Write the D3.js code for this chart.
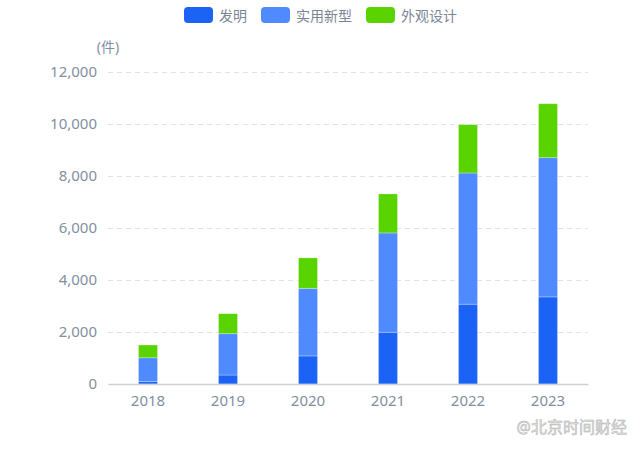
<!DOCTYPE html>
<html>
<head>
<meta charset="utf-8">
<script src="https://cdn.jsdelivr.net/npm/d3@7"></script>
<style>
  body { margin: 0; background: #fff; }
  text { font-family: "Noto Sans", "Noto Sans CJK SC", sans-serif; }
</style>
</head>
<body>
<svg width="640" height="449"></svg>
<script>
// datos
const years = ['2018', '2019', '2020', '2021', '2022', '2023'];
const series = ['发明', '实用新型', '外观设计'];
const faming = [90, 345, 1080, 1990, 3070, 3350];
const shiyong = [920, 1590, 2600, 3820, 5045, 5355];
const waiguan = [490, 770, 1170, 1500, 1860, 2075];
const yTicks = [0, 2000, 4000, 6000, 8000, 10000, 12000];
const colores = ['#1a63f4', '#4f8afe', '#5ad400'];

const svg = d3.select('svg');
const margin = { top: 72, right: 52, bottom: 65, left: 108 };
const ancho = 640 - margin.left - margin.right;
const altura = 449 - margin.top - margin.bottom;

const data = years.map((y, i) => ({ year: y, '发明': faming[i], '实用新型': shiyong[i], '外观设计': waiguan[i] }));
const stacked = d3.stack().keys(series)(data);

const xScale = d3.scaleBand().domain(years).range([0, ancho]);
const yScale = d3.scaleLinear().domain([0, 12000]).range([altura, 0]);

const g = svg.append('g').attr('transform', `translate(${margin.left},${margin.top})`);

// rejilla
const yEje = g.append('g')
  .call(d3.axisLeft(yScale).tickValues(yTicks).tickFormat(d3.format(',')).tickSize(-ancho).tickPadding(11));
yEje.select('.domain').remove();
yEje.selectAll('.tick line')
  .attr('stroke', '#e3e3e3').attr('stroke-dasharray', '5,4')
  .filter(d => d === 0).remove();
yEje.selectAll('.tick text').attr('fill', '#838fa1').style('font-size', '15px');

// barras
const barW = 19;
g.selectAll('.serie').data(stacked).enter().append('g')
  .attr('fill', (d, i) => colores[i])
  .selectAll('rect').data(d => d).enter().append('rect')
  .attr('x', d => xScale(d.data.year) + xScale.bandwidth() / 2 - barW / 2)
  .attr('y', d => yScale(d[1]))
  .attr('width', barW)
  .attr('height', d => yScale(d[0]) - yScale(d[1]))
  .attr('stroke', 'rgba(255,255,255,0.35)').attr('stroke-width', 0.8);

// eje x
const xEje = g.append('g').attr('transform', `translate(0,${altura})`)
  .call(d3.axisBottom(xScale).tickSize(0).tickPadding(11));
xEje.select('.domain').attr('stroke', '#d0d0d0').attr('stroke-width', 1.5);
xEje.selectAll('.tick text').attr('fill', '#838fa1').style('font-size', '15px');

// unidad
svg.append('text').text('(件)')
  .attr('x', 108).attr('y', 52).attr('text-anchor', 'middle')
  .attr('fill', '#838fa1').style('font-size', '14px');

// leyenda
const leyX = [184, 261, 366];
const ley = svg.selectAll('.ley').data(series).enter().append('g')
  .attr('transform', (d, i) => `translate(${leyX[i]},7)`);
ley.append('rect').attr('width', 29).attr('height', 16).attr('rx', 4)
  .attr('fill', (d, i) => colores[i]);
ley.append('text').text(d => d).attr('x', 35).attr('y', 13.5)
  .attr('fill', '#7b8597').style('font-size', '14px');

// marca de agua
svg.append('text').text('@北京时间财经')
  .attr('x', 627).attr('y', 433).attr('text-anchor', 'end')
  .attr('fill', '#e6e6e6').attr('stroke', '#b0b0b0').attr('stroke-width', 0.5)
  .style('font-size', '16px');
</script>
</body>
</html>
